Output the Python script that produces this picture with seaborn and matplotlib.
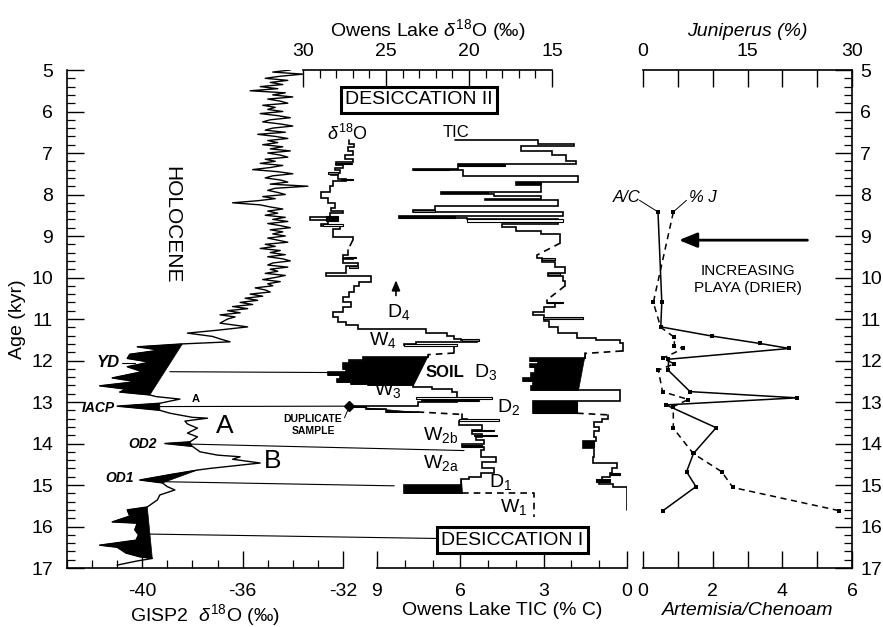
import matplotlib
matplotlib.use("Agg")
import matplotlib.pyplot as plt
import matplotlib.ticker as mticker
from matplotlib.patches import ConnectionPatch, Rectangle
import seaborn as sns

# ── GISP2 δ18O (‰) against age (kyr) ─────────────────────────────────────────
gisp_age = [
    5.00, 5.05, 5.10, 5.15, 5.20, 5.25, 5.30, 5.35, 5.40, 5.45,
    5.50, 5.55, 5.60, 5.65, 5.70, 5.75, 5.80, 5.85, 5.90, 5.95,
    6.00, 6.05, 6.10, 6.15, 6.20, 6.25, 6.30, 6.35, 6.40, 6.45,
    6.50, 6.55, 6.60, 6.65, 6.70, 6.75, 6.80, 6.85, 6.90, 6.95,
    7.00, 7.05, 7.10, 7.15, 7.20, 7.25, 7.30, 7.35, 7.40, 7.45,
    7.50, 7.55, 7.60, 7.65, 7.70, 7.75, 7.80, 7.85, 7.90, 7.95,
    8.00, 8.05, 8.10, 8.15, 8.20, 8.25, 8.30, 8.35, 8.40, 8.45,
    8.50, 8.55, 8.60, 8.65, 8.70, 8.75, 8.80, 8.85, 8.90, 8.95,
    9.00, 9.05, 9.10, 9.15, 9.20, 9.25, 9.30, 9.35, 9.40, 9.45,
    9.50, 9.55, 9.60, 9.65, 9.70, 9.75, 9.80, 9.85, 9.90, 9.95,
    10.00, 10.05, 10.10, 10.15, 10.20, 10.25, 10.30, 10.35, 10.40, 10.45,
    10.50, 10.55, 10.60, 10.65, 10.70, 10.75, 10.80, 10.85, 10.90, 10.95,
    11.00, 11.10, 11.19, 11.27, 11.34, 11.42, 11.48, 11.55, 11.60, 11.67,
    11.75, 11.85, 11.95, 12.04, 12.15, 12.27, 12.42, 12.51, 12.61, 12.69,
    12.76, 12.83, 12.87, 12.93, 13.03, 13.10, 13.20, 13.27, 13.37, 13.39,
    13.46, 13.53, 13.63, 13.75, 13.84, 13.96, 14.00, 14.07, 14.20, 14.28,
    14.32, 14.38, 14.47, 14.60, 14.64, 14.75, 14.88, 14.95, 15.04, 15.12,
    15.24, 15.36, 15.53, 15.60, 15.75, 15.89, 15.92, 16.08, 16.20, 16.33,
    16.45, 16.50, 16.64, 16.73, 16.77, 16.83, 16.93,
]
gisp_d18o = [
    -34.1, -34.8, -33.6, -34.5, -35.1, -34.2, -34.9, -34.4, -35.3, -34.6,
    -35.7, -34.3, -34.8, -34.0, -35.0, -34.5, -34.2, -35.2, -34.7, -35.0,
    -34.4, -35.3, -34.6, -34.1, -34.9, -35.2, -34.5, -34.0, -34.8, -35.1,
    -34.3, -35.4, -34.7, -34.2, -35.0, -34.6, -35.2, -34.4, -34.9, -34.1,
    -35.0, -34.5, -34.2, -35.1, -34.7, -35.3, -34.4, -34.9, -35.6, -34.6,
    -34.0, -34.8, -35.1, -34.5, -34.2, -34.9, -33.4, -34.7, -35.0, -34.6,
    -34.3, -35.2, -34.7, -35.4, -36.4, -35.3, -34.9, -34.4, -35.0, -34.6,
    -35.1, -34.3, -34.8, -34.2, -35.0, -34.5, -34.1, -34.9, -34.4, -34.8,
    -34.3, -35.0, -34.6, -34.2, -35.1, -34.7, -35.3, -34.5, -34.9, -34.3,
    -35.0, -34.4, -34.1, -34.8, -35.0, -34.2, -34.9, -34.6, -35.1, -34.3,
    -34.7, -35.2, -34.5, -35.0, -34.8, -35.5, -35.1, -34.9, -35.7, -35.2,
    -35.9, -35.4, -36.1, -35.6, -36.4, -35.8, -36.6, -36.1, -36.9, -36.3,
    -36.6, -36.9, -35.8, -37.0, -38.2, -37.2, -36.9, -36.5, -38.4, -40.2,
    -39.3, -40.5, -40.6, -39.7, -40.6, -40.0, -41.2, -40.25, -41.7, -40.65,
    -40.9, -39.7, -39.45, -38.5, -39.3, -41.0, -39.3, -38.9, -38.0, -37.4,
    -38.3, -38.2, -37.8, -38.2, -37.8, -38.1, -39.1, -38.0, -37.7, -37.0,
    -36.1, -36.4, -35.3, -37.3, -37.8, -38.9, -40.1, -39.2, -39.0, -38.7,
    -39.3, -39.4, -39.8, -40.6, -40.5, -41.2, -40.2, -40.3, -40.15, -40.25,
    -41.7, -41.0, -40.65, -40.1, -39.6, -40.2, -41.0,
]
# shaded cold events: (top age, bottom age)
gisp_events = [(11.60, 12.83), (13.03, 13.20), (13.96, 14.07), (14.64, 14.95), (15.53, 16.77)]

# ── Owens Lake δ18O (‰), step segments: sample top age, value ────────────────
o1_age = [6.69, 6.78, 6.86, 6.95, 7.05, 7.15, 7.22, 7.28, 7.35, 7.42, 7.47, 7.52, 7.62, 7.68,
          7.80, 7.93, 8.08, 8.20, 8.32, 8.40, 8.44, 8.55, 8.62, 8.70, 8.77, 8.82, 9.02, 9.10]
o1_val = [27.2, 26.9, 27.3, 27.0, 27.5, 27.0, 28.0, 27.6, 28.1, 27.8, 28.3, 27.9, 27.4, 28.2,
          28.4, 28.9, 28.5, 28.1, 28.3, 27.6, 28.4, 29.6, 28.5, 28.9, 27.8, 28.2, 27.0, 27.0]
o2_age = [9.34, 9.45, 9.52, 9.56, 9.66, 9.72, 9.88, 9.97, 10.10, 10.20, 10.35, 10.47, 10.60, 10.72,
          10.82, 10.95, 11.07, 11.15, 11.25, 11.33, 11.40, 11.47, 11.50, 11.56, 11.60, 11.62, 11.66, 11.82]
o2_val = [27.3, 27.6, 27.0, 27.6, 26.7, 27.4, 28.6, 25.9, 26.6, 26.9, 27.2, 27.6, 27.1, 27.6,
          28.2, 27.9, 27.4, 26.7, 22.6, 21.3, 20.9, 20.5, 19.5, 23.2, 23.9, 20.7, 20.9, 20.9]
o3_age = [11.86, 11.92, 11.98, 12.06, 12.20, 12.27, 12.34, 12.45, 12.52, 12.56, 12.59, 12.63,
          12.68, 12.75, 12.99, 13.09, 13.12, 13.18, 13.24]
o3_val = [22.5, 26.4, 27.2, 27.6, 27.4, 28.5, 27.8, 27.95, 27.1, 26.1, 23.4, 22.2,
          21.0, 20.7, 23.1, 27.2, 26.2, 25.0, 23.1]
o4_age = [13.30, 13.42, 13.46, 13.55, 13.67, 13.78, 13.84, 13.92, 14.02, 14.08, 14.16, 14.33,
          14.45, 14.60, 14.71, 14.80, 14.86, 15.00, 15.19]
o4_val = [20.4, 20.1, 20.6, 19.2, 19.8, 19.2, 19.6, 19.1, 20.4, 19.1, 19.3, 18.4,
          19.2, 18.5, 19.3, 20.0, 20.5, 23.9, 20.4]
o_fills = [(11.86, 12.59), (13.09, 13.24), (14.86, 15.19)]
w1_val = [20.4, 16.1, 16.1]
w1_age = [15.19, 15.19, 15.77]
o_bar_top = [7.23, 7.45, 7.63, 8.53, 8.72, 9.50, 9.72, 11.48, 11.60, 12.88, 12.94, 13.42, 13.68, 13.79, 14.03]
o_bar_bot = [7.27, 7.50, 7.66, 8.63, 8.76, 9.54, 9.76, 11.52, 11.66, 12.92, 12.98, 13.46, 13.71, 13.83, 14.08]
o_bar_lo = [28.1, 28.5, 27.7, 28.6, 28.8, 27.4, 27.2, 20.4, 23.9, 23.2, 22.9, 20.6, 19.8, 19.7, 20.4]
o_bar_hi = [27.05, 27.9, 27.0, 27.9, 27.6, 26.8, 26.7, 19.4, 20.7, 18.6, 19.4, 18.2, 18.5, 18.3, 19.2]
o_bar_kind = ["dark", "grey", "grey", "dark", "open", "grey", "grey", "grey", "open", "open",
              "open", "open", "open", "open", "dark"]
dup_sample = (27.2, 13.10)

# ── Owens Lake TIC (% C), step segments ──────────────────────────────────────
t1_age = [6.69, 6.69, 6.78, 6.82, 6.95, 7.05, 7.20, 7.27, 7.38, 7.42, 7.55, 7.70, 7.76, 7.93, 7.98,
          8.04, 8.10, 8.14, 8.27, 8.38, 8.43, 8.52, 8.56, 8.60, 8.70, 8.79, 8.88, 8.96, 9.17]
t1_val = [6.2, 3.2, 1.9, 3.8, 2.7, 2.2, 1.85, 6.1, 7.7, 5.9, 1.75, 4.0, 3.1, 6.7, 4.8,
          3.1, 5.1, 2.5, 6.9, 7.7, 2.3, 8.2, 5.75, 2.5, 4.5, 4.0, 3.1, 2.4, 2.4]
t2_age = [9.46, 9.53, 9.62, 9.75, 9.90, 9.96, 10.08, 10.20]
t2_val = [3.24, 3.06, 2.6, 2.23, 2.85, 2.3, 2.23, 2.23]
t3_age = [10.54, 10.62, 10.70, 10.83, 10.90, 10.97, 11.05, 11.20, 11.27, 11.34, 11.46, 11.51, 11.58, 11.77]
t3_val = [2.88, 2.6, 3.0, 3.4, 3.0, 3.0, 2.8, 2.5, 2.5, 1.8, 1.1, 0.25, 0.14, 0.18]
t4_age = [11.83, 11.93, 12.00, 12.08, 12.15, 12.30, 12.42, 12.50, 12.62, 12.71, 12.712, 12.97, 13.27]
t4_val = [1.5, 3.5, 3.2, 3.5, 3.3, 3.45, 3.75, 3.4, 3.45, 1.75, 0.25, 3.4, 1.8]
t5_age = [13.31, 13.40, 13.48, 13.60, 13.70, 13.84, 13.95, 14.10, 14.33, 14.47, 14.60, 14.71,
          14.80, 14.88, 14.98, 15.05, 15.60]
t5_val = [0.68, 0.9, 1.2, 1.0, 1.2, 1.1, 1.6, 1.2, 1.22, 0.36, 0.55, 0.6, 0.9, 1.0, 0.5, 0.0, 0.0]
t_fills = [(11.83, 12.71)]
t_bar_top = [7.27, 7.38, 7.70, 7.93, 8.38, 8.52, 8.60, 9.53, 9.90, 10.58, 10.95, 12.98, 13.95, 14.71, 14.86]
t_bar_bot = [7.31, 7.42, 7.74, 7.97, 8.42, 8.56, 8.66, 9.57, 9.94, 10.62, 11.00, 13.27, 14.08, 14.76, 14.92]
t_bar_lo = [6.1, 7.7, 4.0, 6.7, 7.7, 8.2, 5.75, 3.06, 2.85, 2.88, 3.02, 3.4, 1.6, 0.6, 1.1]
t_bar_hi = [4.4, 6.4, 3.1, 5.0, 6.9, 6.2, 2.3, 2.6, 2.4, 2.3, 1.58, 1.8, 1.2, 0.25, 0.6]
t_bar_kind = ["dark", "grey", "dark", "dark", "grey", "dark", "open", "grey", "grey", "grey",
              "grey", "dark", "dark", "dark", "dark"]

# ── tie lines GISP2 -> Owens Lake δ18O ───────────────────────────────────────
tie_gisp = [-38.9, -39.3, -38.4, -39.2, -40.0]
tie_gisp_age = [12.27, 13.11, 14.01, 14.92, 16.18]
tie_owens = [28.4, 27.2, 20.3, 24.5, 20.0]
tie_owens_age = [12.29, 13.10, 14.17, 15.02, 16.30]

# ── pollen: Artemisia/Chenoam ratio and Juniperus % ──────────────────────────
ac_age = [8.42, 10.60, 11.19, 11.41, 11.59, 11.71, 11.97, 12.24, 12.75, 12.90, 13.07, 13.62,
          14.24, 14.68, 15.04, 15.62]
ac_val = [0.43, 0.54, 0.51, 1.97, 3.36, 4.20, 0.73, 0.73, 1.35, 4.42, 0.66, 2.10,
          1.45, 1.25, 1.52, 0.57]
jun_age = [8.43, 10.60, 11.20, 11.44, 11.65, 11.71, 11.95, 12.08, 12.23, 12.75, 12.94, 13.11,
           13.63, 14.24, 14.68, 15.06, 15.62]
jun_val = [4.35, 1.48, 2.54, 4.5, 4.5, 5.8, 2.8, 4.5, 2.2, 2.8, 6.5, 4.35,
           4.35, 7.2, 11.3, 12.9, 28.2]

FILL = {"dark": "black", "grey": "0.55", "open": "white"}
W, H = 883, 627


def step_xy(ages, vals):
    """Down-core step vertices: each value held until the next sample."""
    xs, ys = [vals[0]], [ages[0]]
    for i in range(1, len(ages)):
        xs += [vals[i - 1], vals[i]]
        ys += [ages[i], ages[i]]
    return xs, ys


def span(ages, vals, lo, hi):
    sel = [(a, v) for a, v in zip(ages, vals) if lo <= a <= hi]
    return [a for a, _ in sel], [v for _, v in sel]


def draw_steps(ax, segments, fills, lw=1.2):
    for k, (ages, vals) in enumerate(segments):
        xs, ys = step_xy(ages, vals)
        ax.plot(xs, ys, color="black", lw=lw, zorder=3, solid_joinstyle="miter")
        for lo, hi in fills:
            a, v = span(ages, vals, lo, hi)
            if len(a) > 1:
                fx, fy = step_xy(a, v)
                ax.fill(fx, fy, color="black", lw=0.5, zorder=3)
        if k + 1 < len(segments):
            nxt_a, nxt_v = segments[k + 1]
            ax.plot([vals[-1], nxt_v[0]], [ages[-1], nxt_a[0]], color="black",
                    lw=lw, ls=(0, (4, 3)), zorder=3)


def draw_bars(ax, top, bot, lo, hi, kind):
    for t, b, l, h, k in zip(top, bot, lo, hi, kind):
        ax.add_patch(Rectangle((min(l, h), t), abs(h - l), b - t, facecolor=FILL[k],
                               edgecolor="black", lw=0.8, zorder=4))


def rect(x0, x1):
    return [x0 / W, 1 - 568 / H, (x1 - x0) / W, 498 / H]


def only_spines(ax, keep):
    for side in ["left", "right", "top", "bottom"]:
        ax.spines[side].set_visible(side in keep)
        ax.spines[side].set_linewidth(1.2)
    ax.set_facecolor("none")


sns.set_theme(style="ticks", rc={
    "axes.edgecolor": "black", "text.color": "black", "axes.labelcolor": "black",
    "xtick.color": "black", "ytick.color": "black",
    "xtick.direction": "in", "ytick.direction": "in",
    "xtick.major.size": 12, "ytick.major.size": 12,
    "xtick.minor.size": 6, "ytick.minor.size": 6,
    "xtick.major.width": 1.0, "ytick.major.width": 1.0,
    "xtick.minor.width": 0.9, "ytick.minor.width": 0.9,
})
plt.rcParams["font.family"] = ["Liberation Sans", "DejaVu Sans"]
plt.rcParams["axes.unicode_minus"] = False
plt.rcParams["mathtext.fontset"] = "custom"
plt.rcParams["mathtext.rm"] = "Liberation Sans"
plt.rcParams["mathtext.it"] = "Liberation Sans:italic"
plt.rcParams["mathtext.bf"] = "Liberation Sans:bold"

TICK_FS = 14
LABEL_FS = 14

fig = plt.figure(figsize=(W / 100, H / 100), dpi=100)
fig.patch.set_facecolor("white")

ax_g = fig.add_axes(rect(67, 343))
ax_t = fig.add_axes(rect(377, 627), sharey=ax_g)
ax_o = fig.add_axes(rect(303, 552), sharey=ax_g)
ax_r = fig.add_axes(rect(643, 852), sharey=ax_g)

# ── GISP2 panel ──────────────────────────────────────────────────────────────
sns.lineplot(x=gisp_d18o, y=gisp_age, orient="y", sort=False, estimator=None,
             color="black", lw=1.0, ax=ax_g)
for lo, hi in gisp_events:
    a, v = span(gisp_age, gisp_d18o, lo, hi)
    ax_g.fill(v, a, color="black", lw=0.5, zorder=2)

only_spines(ax_g, ["left", "bottom"])
ax_g.set_xlim(-43, -32)
ax_g.set_ylim(17, 5)
ax_g.xaxis.set_major_locator(mticker.FixedLocator([-40, -36, -32]))
ax_g.xaxis.set_minor_locator(mticker.MultipleLocator(1))
ax_g.yaxis.set_major_locator(mticker.MultipleLocator(1))
ax_g.yaxis.set_minor_locator(mticker.MultipleLocator(0.2))
ax_g.tick_params(axis="x", which="both", bottom=True, top=False, labelsize=TICK_FS, pad=11)
ax_g.tick_params(axis="y", which="both", left=True, right=False, labelsize=TICK_FS, pad=10)
ax_g.set_xlabel("GISP2  $\\delta^{18}$O (‰)", fontsize=LABEL_FS, labelpad=1)
ax_g.set_ylabel("Age (kyr)", fontsize=LABEL_FS, labelpad=4)

ax_g.text(-38.84, 8.73, "HOLOCENE", rotation=270, fontsize=15, ha="center", va="center")
ax_g.text(-41.35, 12.06, "YD", fontsize=12, style="italic", weight="bold", ha="center", va="center")
ax_g.plot([-40.8, -40.3], [12.06, 12.06], color="black", lw=0.8)
ax_g.text(-41.75, 13.14, "IACP", fontsize=10, style="italic", weight="bold", ha="center", va="center")
ax_g.text(-40.0, 14.0, "OD2", fontsize=10, style="italic", weight="bold", ha="center", va="center")
ax_g.text(-40.9, 14.84, "OD1", fontsize=10, style="italic", weight="bold", ha="center", va="center")
ax_g.text(-37.85, 12.92, "A", fontsize=8, weight="bold", ha="center", va="center")
ax_g.text(-36.7, 13.58, "A", fontsize=19, ha="center", va="center")
ax_g.text(-34.8, 14.42, "B", fontsize=19, ha="center", va="center")

# ── TIC panel ────────────────────────────────────────────────────────────────
draw_steps(ax_t, [(t1_age, t1_val), (t2_age, t2_val), (t3_age, t3_val),
                  (t4_age, t4_val), (t5_age, t5_val)], t_fills)
draw_bars(ax_t, t_bar_top, t_bar_bot, t_bar_lo, t_bar_hi, t_bar_kind)
only_spines(ax_t, ["bottom"])
ax_t.set_xlim(9, 0)
ax_t.xaxis.set_major_locator(mticker.MultipleLocator(3))
ax_t.xaxis.set_minor_locator(mticker.MultipleLocator(1))
ax_t.tick_params(axis="x", which="both", bottom=True, top=False, labelsize=TICK_FS, pad=11)
ax_t.tick_params(axis="y", which="both", left=False, right=False, labelleft=False)
ax_t.set_xlabel("Owens Lake TIC (% C)", fontsize=LABEL_FS, labelpad=1)

# ── Owens Lake δ18O panel ────────────────────────────────────────────────────
draw_steps(ax_o, [(o1_age, o1_val), (o2_age, o2_val), (o3_age, o3_val), (o4_age, o4_val)], o_fills)
draw_bars(ax_o, o_bar_top, o_bar_bot, o_bar_lo, o_bar_hi, o_bar_kind)
ax_o.plot(w1_val, w1_age, color="black", lw=1.2, ls=(0, (4, 3)))
ax_o.plot(*dup_sample, marker="D", ms=5, color="black", zorder=5, clip_on=False)
only_spines(ax_o, ["top"])
ax_o.set_xlim(30, 15)
ax_o.xaxis.tick_top()
ax_o.xaxis.set_label_position("top")
ax_o.xaxis.set_major_locator(mticker.MultipleLocator(5))
ax_o.xaxis.set_minor_locator(mticker.MultipleLocator(1))
ax_o.tick_params(axis="x", which="both", top=True, bottom=False, labeltop=True,
                 labelbottom=False, labelsize=TICK_FS, pad=7)
ax_o.tick_params(axis="y", which="both", left=False, right=False, labelleft=False)
ax_o.set_xlabel("Owens Lake $\\delta^{18}$O (‰)", fontsize=LABEL_FS, labelpad=5)

for g, ga, o, oa in zip(tie_gisp, tie_gisp_age, tie_owens, tie_owens_age):
    con = ConnectionPatch(xyA=(g, ga), coordsA=ax_g.transData, xyB=(o, oa),
                          coordsB=ax_o.transData, color="black", lw=0.8, zorder=1)
    ax_o.add_artist(con)

box = dict(boxstyle="square,pad=0.22", facecolor="white", edgecolor="black", lw=2.2)
ax_o.text(23.0, 5.72, "DESICCATION II", fontsize=14, ha="center", va="center", bbox=box, zorder=6)
ax_o.text(17.4, 16.33, "DESICCATION I", fontsize=14, ha="center", va="center", bbox=box, zorder=6)
ax_o.text(27.35, 6.55, "$\\delta^{18}$O", fontsize=13, ha="center", va="center")
ax_o.text(20.8, 6.5, "TIC", fontsize=12, ha="center", va="center")
ax_o.annotate("", xy=(24.4, 10.0), xytext=(24.4, 10.5),
              arrowprops=dict(arrowstyle="-|>,head_length=0.6,head_width=0.25",
                              lw=1.2, color="black", mutation_scale=10))
sub_labels = [("D$_4$", 24.22, 10.83), ("W$_4$", 25.2, 11.5), ("D$_3$", 19.0, 12.27),
              ("W$_3$", 24.9, 12.7), ("D$_2$", 17.6, 13.13), ("W$_{\\mathrm{2b}}$", 21.7, 13.79),
              ("W$_{\\mathrm{2a}}$", 21.7, 14.46), ("D$_1$", 18.1, 14.93), ("W$_1$", 17.3, 15.53)]
for s, x, y in sub_labels:
    ax_o.text(x, y, s, fontsize=14, ha="center", va="center")
ax_o.text(21.45, 12.28, "SOIL", fontsize=12, weight="bold", ha="center", va="center")
ax_o.text(29.4, 13.56, "DUPLICATE\nSAMPLE", fontsize=7.5, weight="bold", ha="center",
          va="center", linespacing=1.3, clip_on=False)
ax_o.plot([27.5, 27.2], [13.38, 13.1], color="black", lw=0.7, clip_on=False)

# ── pollen panel ─────────────────────────────────────────────────────────────
ax_j = ax_r.twiny()
sns.lineplot(x=ac_val, y=ac_age, orient="y", sort=False, estimator=None, color="black",
             lw=1.1, marker="s", markersize=3.5, markeredgewidth=0, ax=ax_r)
sns.lineplot(x=jun_val, y=jun_age, orient="y", sort=False, estimator=None, color="black",
             lw=1.1, linestyle=(0, (4, 3)), marker="s", markersize=3.5, markeredgewidth=0, ax=ax_j)

only_spines(ax_r, ["bottom", "right"])
ax_r.set_xlim(0, 6)
ax_r.set_ylim(17, 5)
ax_r.xaxis.set_major_locator(mticker.MultipleLocator(1))
ax_r.xaxis.set_major_formatter(mticker.FuncFormatter(lambda v, p: f"{v:.0f}" if round(v) % 2 == 0 else ""))
ax_r.tick_params(axis="x", which="both", bottom=True, top=False, labelsize=TICK_FS, pad=11)
ax_r.tick_params(axis="y", which="both", left=False, right=True, labelleft=False,
                 labelright=True, labelsize=TICK_FS, pad=6)
ax_r.set_xlabel("Artemisia/Chenoam", fontsize=LABEL_FS, style="italic", labelpad=1)
ax_r.set_ylabel("")

only_spines(ax_j, ["top"])
ax_j.set_xlim(0, 30)
ax_j.xaxis.set_major_locator(mticker.MultipleLocator(5))
ax_j.xaxis.set_major_formatter(mticker.FuncFormatter(lambda v, p: f"{v:.0f}" if round(v) % 15 == 0 else ""))
ax_j.tick_params(axis="x", which="both", top=True, bottom=False, labelsize=TICK_FS, pad=7)
ax_j.set_xlabel("Juniperus (%)", fontsize=LABEL_FS, style="italic", labelpad=5)

ax_r.text(-0.46, 8.08, "A/C", fontsize=12, style="italic", ha="center", va="center", clip_on=False)
ax_r.plot([-0.1, 0.43], [8.14, 8.42], color="black", lw=0.7, clip_on=False)
ax_r.text(1.72, 8.08, "% J", fontsize=12, style="italic", ha="center", va="center")
ax_r.plot([1.25, 0.87], [8.14, 8.42], color="black", lw=0.7)
ax_r.annotate("", xy=(0.95, 9.1), xytext=(4.8, 9.1),
              arrowprops=dict(arrowstyle="-|>,head_length=1.1,head_width=0.45",
                              lw=2.0, color="black", mutation_scale=10))
ax_r.text(3.0, 10.05, "INCREASING\nPLAYA (DRIER)", fontsize=11, ha="center", va="center",
          linespacing=1.3)

fig.savefig("out.png", dpi=100)
